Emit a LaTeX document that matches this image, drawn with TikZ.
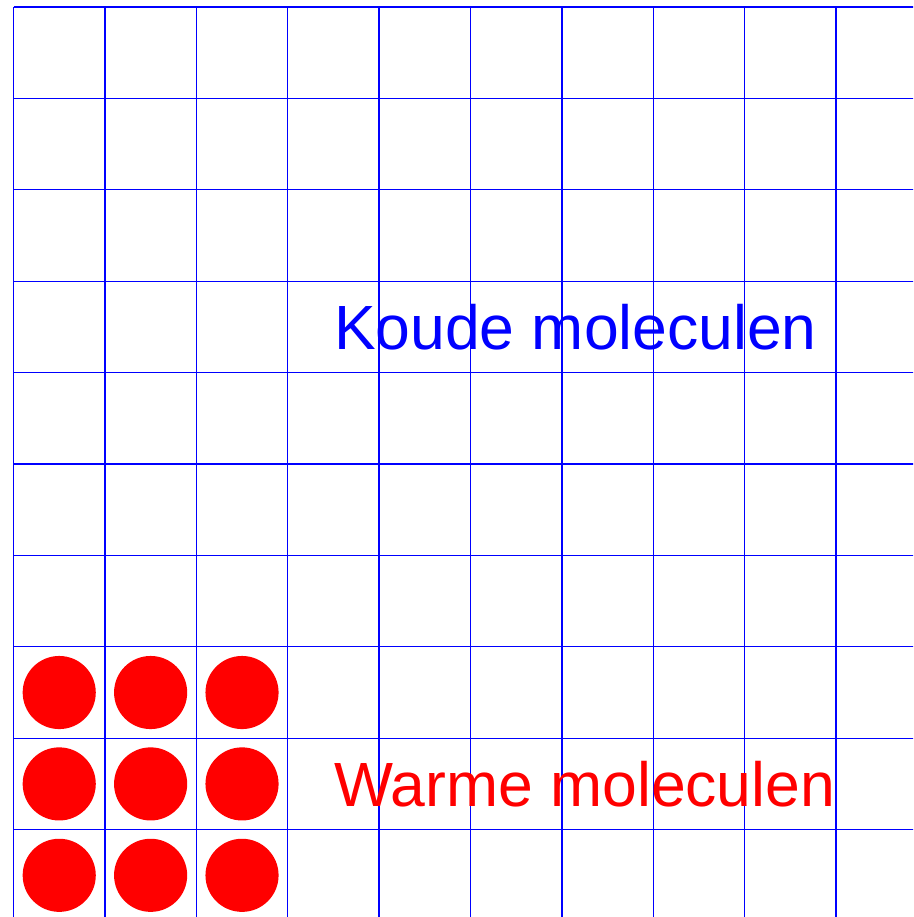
\documentclass[tikz,border=0pt]{standalone}
\usepackage{fontspec}
\setmainfont{Liberation Sans}
\begin{document}
\begin{tikzpicture}[scale=1]
\def\r{0.4};%straal van de moleculen
\tikzset{tekst/.style={anchor=west,inner sep=0pt,font=\fontsize{19.45pt}{23pt}\selectfont}}
\useasboundingbox (-0.148,0.044) rectangle (9.842,10.077);%kader
\clip (-0.148,0.044) rectangle (9.842,10.077);
\draw[color=blue,line width=0.4pt] (0,0) grid (10,10);%rooster
\foreach \x in {0,1,2}{%warme moleculen
  \foreach \y in {0,1,2}{
    \fill[color=red] (\x+0.5,\y+0.5) circle ({\r});
  }
}
\node[tekst,color=blue] (koud) at (3.5,6.5){Koude moleculen};
\node[tekst,color=red] (warm) at (3.5,1.5){Warme moleculen};
\end{tikzpicture}
\end{document}
